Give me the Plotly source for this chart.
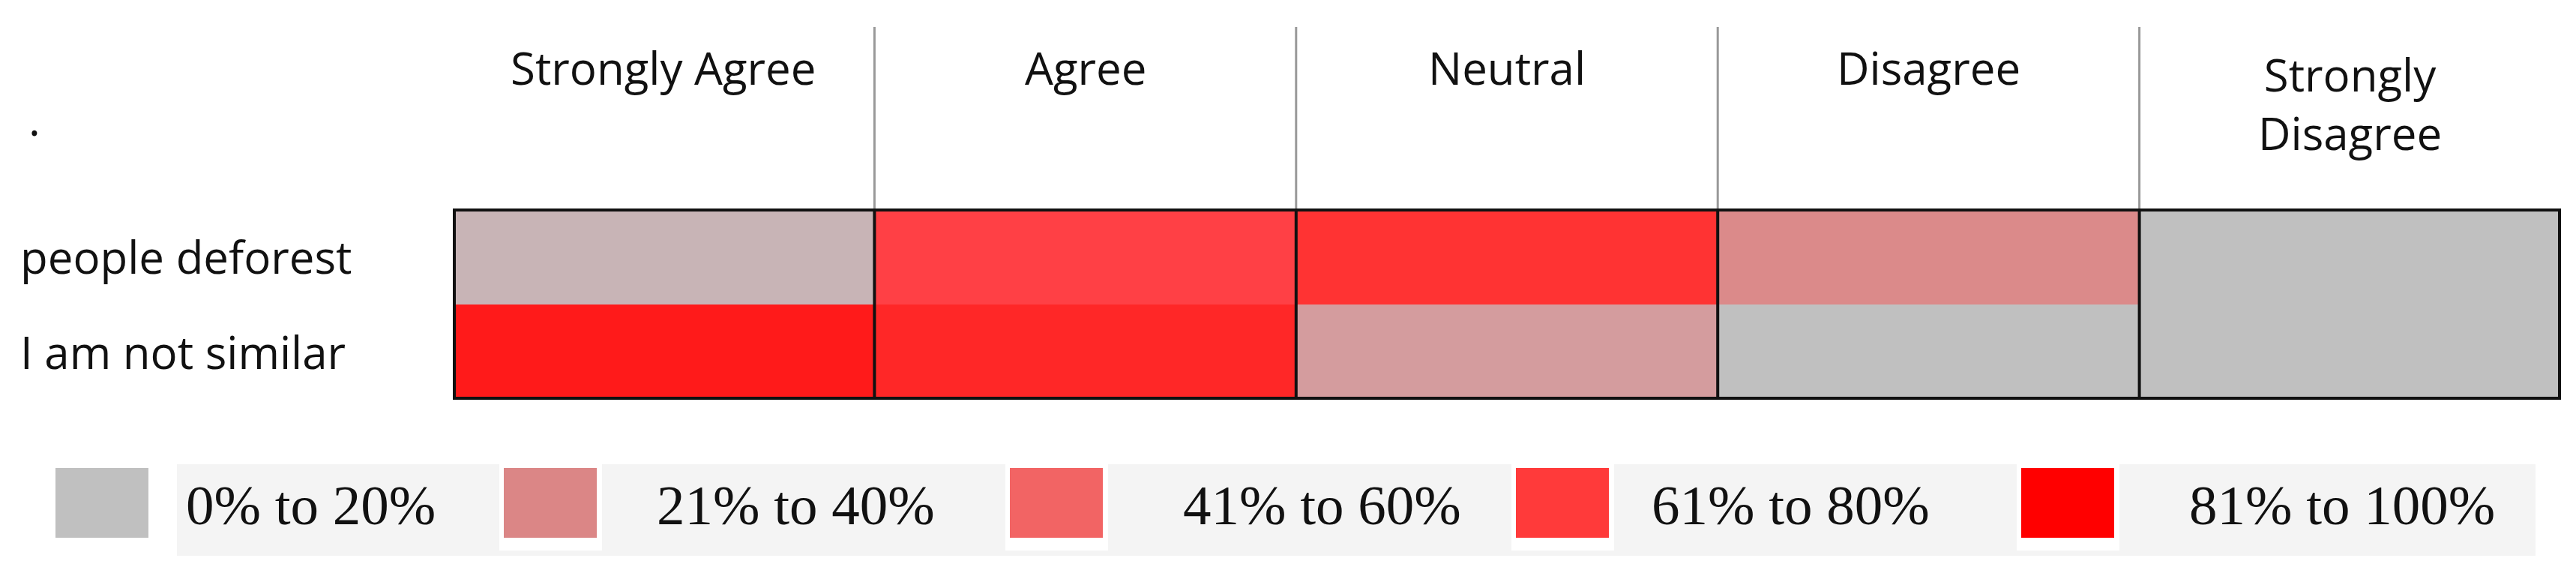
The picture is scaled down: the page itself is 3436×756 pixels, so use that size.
import plotly.graph_objects as go

columns = ["Strongly Agree", "Agree", "Neutral", "Disagree", "Strongly<br>Disagree"]
rows = ["I am not similar", "people deforest"]
cell_colors = [
    ["#FF1A1A", "#FF2727", "#D49C9E", "#C0C0C0", "#C0C0C0"],  # I am not similar
    ["#C8B4B6", "#FF4045", "#FF3333", "#DB8A8A", "#C0C0C0"],  # people deforest
]
legend_labels = ["0% to 20%", "21% to 40%", "41% to 60%", "61% to 80%", "81% to 100%"]
legend_colors = ["#C0C0C0", "#DB8686", "#F26464", "#FF3A3A", "#FF0000"]

W, H = 3436, 756
L, R, T, B = 596, 28, 270, 231
pw, ph = W - L - R, H - T - B

def px(x):
    return (x - L) / pw

def py(y):
    return (H - B - y) / ph

flat = [c for r in cell_colors for c in r]
n = len(flat)
z = [[ri * len(columns) + ci for ci in range(len(columns))] for ri in range(len(rows))]
cs = [[i / (n - 1), flat[i]] for i in range(n)]

fig = go.Figure(go.Heatmap(z=z, x=list(range(len(columns))), y=list(range(len(rows))),
                           colorscale=cs, zmin=0, zmax=n - 1, showscale=False, hoverinfo="skip"))

shapes = []
for i in range(1, len(columns)):
    shapes.append(dict(type="line", xref="x", yref="paper", x0=i - 0.5, x1=i - 0.5,
                       y0=1, y1=py(28), line=dict(color="#999999", width=3)))
    shapes.append(dict(type="line", xref="x", yref="y", x0=i - 0.5, x1=i - 0.5,
                       y0=-0.5, y1=1.5, line=dict(color="#111111", width=4)))
shapes.append(dict(type="rect", xref="x", yref="y", x0=-0.5, x1=4.5, y0=-0.5, y1=1.5,
                   line=dict(color="#111111", width=8)))

# legend background
shapes.append(dict(type="rect", xref="paper", yref="paper", x0=px(228), x1=px(3374),
                   y0=py(733), y1=py(611), fillcolor="#F4F4F4", line=dict(width=0), layer="below"))
box_x = [66, 664, 1339, 2014, 2688]
text_x = [238, 866, 1568, 2193, 2910]
for bx, col in zip(box_x, legend_colors):
    shapes.append(dict(type="rect", xref="paper", yref="paper", x0=px(bx - 6), x1=px(bx + 131),
                       y0=py(726), y1=py(611), fillcolor="white", line=dict(width=0)))
    shapes.append(dict(type="rect", xref="paper", yref="paper", x0=px(bx), x1=px(bx + 124),
                       y0=py(709), y1=py(616), fillcolor=col, line=dict(width=0)))

ann = []
hfont = dict(family="Open Sans", size=60, color="#111111")
for i, c in enumerate(columns):
    yy = py(130) if "<br>" in c else py(82)
    ann.append(dict(text=c, x=i, xref="x", y=yy, yref="paper", showarrow=False,
                    font=hfont, xanchor="center", yanchor="middle"))
for j, r in enumerate(rows):
    ann.append(dict(text=r, x=px(17), xref="paper", y=j, yref="y", showarrow=False,
                    font=hfont, xanchor="left", yanchor="middle"))
ann.append(dict(text=".", x=px(28), xref="paper", y=py(150), yref="paper", showarrow=False,
                font=hfont, xanchor="left", yanchor="middle"))
for tx, lab in zip(text_x, legend_labels):
    ann.append(dict(text=lab, x=px(tx), xref="paper", y=py(665), yref="paper", showarrow=False,
                    font=dict(family="Liberation Serif", size=75, color="#111111"),
                    xanchor="left", yanchor="middle"))

fig.update_layout(width=W, height=H, margin=dict(l=L, r=R, t=T, b=B),
                  paper_bgcolor="white", plot_bgcolor="white",
                  shapes=shapes, annotations=ann,
                  xaxis=dict(range=[-0.5, 4.5], visible=False, fixedrange=True),
                  yaxis=dict(range=[-0.5, 1.5], visible=False, fixedrange=True))
fig.write_html("out.html")
